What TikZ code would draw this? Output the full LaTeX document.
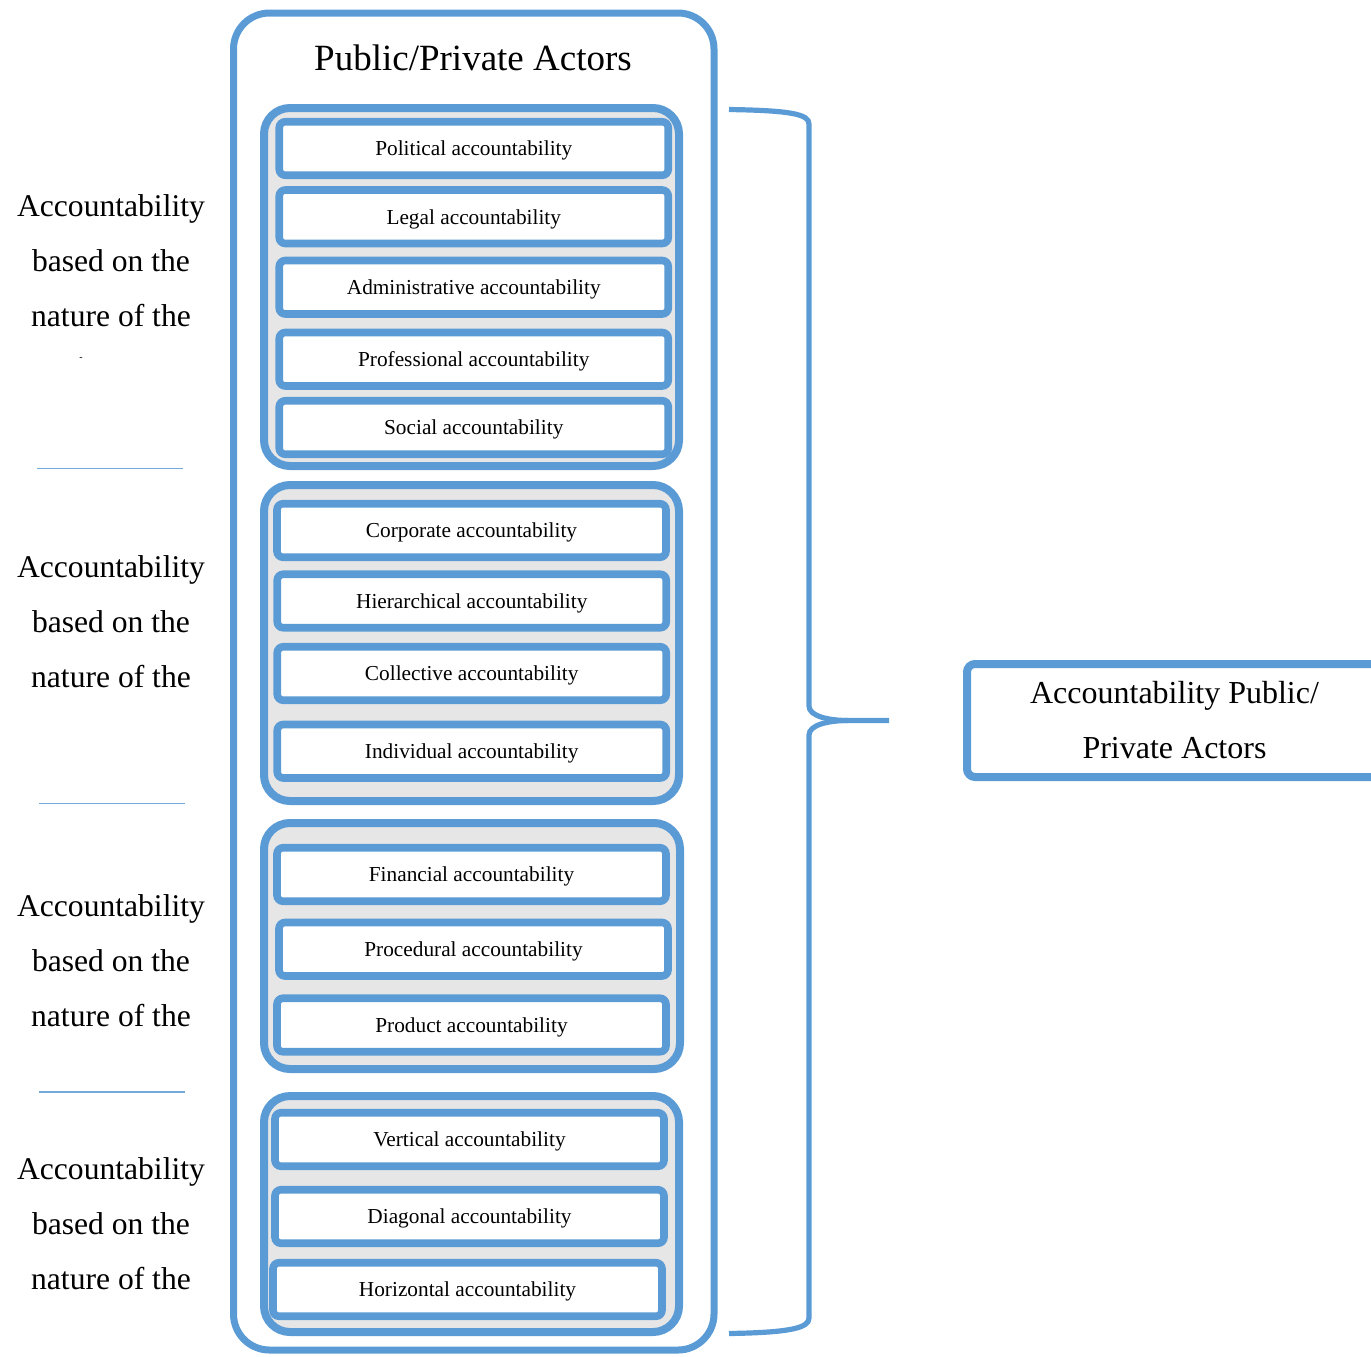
\documentclass[tikz,border=0pt]{standalone}
\usepackage{fontspec}
\setmainfont{Liberation Serif}
\usepackage{xcolor}
\definecolor{FrameBlue}{RGB}{91,155,213}
\definecolor{GroupGray}{RGB}{231,230,230}
\usepackage{tikz}
\usetikzlibrary{fit}

\begin{document}
\begin{tikzpicture}[
    x=0.5pt,
    y=-0.5pt,
    outerframe/.style={
        draw=FrameBlue,
        rounded corners=18pt,
        line width=3.5pt,
        inner sep=0pt
    },
    groupbox/.style={
        draw=FrameBlue,
        fill=GroupGray,
        rounded corners=13pt,
        line width=4pt,
        inner sep=0pt
    },
    itembox/.style={
        draw=FrameBlue,
        fill=white,
        rounded corners=3pt,
        minimum width=194.5pt,
        minimum height=26.75pt,
        inner sep=0pt,
        text depth=0pt,
        line width=3.8pt,
        font=\fontsize{10.65}{12}\selectfont
    },
    sidelabel/.style={
        align=center,
        inner sep=0pt,
        font=\fontsize{15.8}{27.5}\selectfont
    },
    summary/.style={
        draw=FrameBlue,
        rounded corners=4pt,
        minimum width=207.5pt,
        minimum height=56.5pt,
        align=center,
        inner sep=0pt,
        line width=4pt,
        font=\fontsize{16}{27.5}\selectfont
    },
    brace/.style={
        draw=FrameBlue,
        line width=2.6pt
    },
    rule/.style={
        draw=FrameBlue!85,
        line width=0.8pt
    }
]
\useasboundingbox (0,0) rectangle (1371,1356);
%
\node[outerframe, fit={(233.5,13) (714,1350)}] (actors) {};
\node[anchor=base, font=\fontsize{18.5}{22}\selectfont] (title) at (473,70.5) {Public/Private Actors};
%
\node[groupbox, fit={(264,108) (679,466)}] (grpone) {};
\node[groupbox, fit={(264,485) (679,801)}] (grptwo) {};
\node[groupbox, fit={(264,823) (680,1069)}] (grpthree) {};
\node[groupbox, fit={(264,1096) (679,1332)}] (grpfour) {};
%
\node[itembox] (political) at (473.75,148.5) {Political accountability};
\node[itembox] (legal) at (473.75,216.75) {Legal accountability};
\node[itembox] (administrative) at (473.75,287.25) {Administrative accountability};
\node[itembox] (professional) at (473.75,359.25) {Professional accountability};
\node[itembox] (social) at (473.75,427.5) {Social accountability};
%
\node[itembox] (corporate) at (471.5,530.5) {Corporate accountability};
\node[itembox] (hierarchical) at (471.75,601) {Hierarchical accountability};
\node[itembox] (collective) at (471.75,673.5) {Collective accountability};
\node[itembox] (individual) at (471.75,751.25) {Individual accountability};
%
\node[itembox] (financial) at (471.5,874.5) {Financial accountability};
\node[itembox] (procedural) at (473.5,949.25) {Procedural accountability};
\node[itembox] (product) at (471.5,1025) {Product accountability};
%
\node[itembox] (vertical) at (469.5,1139.5) {Vertical accountability};
\node[itembox] (diagonal) at (469.5,1216.5) {Diagonal accountability};
\node[itembox] (horizontal) at (467.5,1289.5) {Horizontal accountability};
%
\node[sidelabel] (sideone) at (111,260.5) {Accountability\\based on the\\nature of the};
\node[font=\fontsize{5}{5}\selectfont] (sidecut) at (81,359) {-};
\node[sidelabel] (sidetwo) at (111,621.5) {Accountability\\based on the\\nature of the};
\node[sidelabel] (sidethree) at (111,960.5) {Accountability\\based on the\\nature of the};
\node[sidelabel] (sidefour) at (111,1223.5) {Accountability\\based on the\\nature of the};
%
\draw[rule] (37,468.3) -- (183,468.3);
\draw[rule] (39,803.3) -- (185,803.3);
\draw[rule] (39,1092) -- (185,1092);
%
\draw[brace] (729,109.5) .. controls (790,110.5) and (809,114) .. (809,124)
    -- (809,706) .. controls (809,716) and (828,720.5) .. (848,720.5)
    -- (889,720.5);
\draw[brace] (848,720.5) .. controls (828,720.5) and (809,725) .. (809,735)
    -- (809,1318) .. controls (809,1328) and (790,1332.5) .. (729,1333.5);
%
\node[summary] (pubpriv) at (1174.5,720.5) {Accountability Public/\\Private Actors};
%
\end{tikzpicture}
\end{document}
